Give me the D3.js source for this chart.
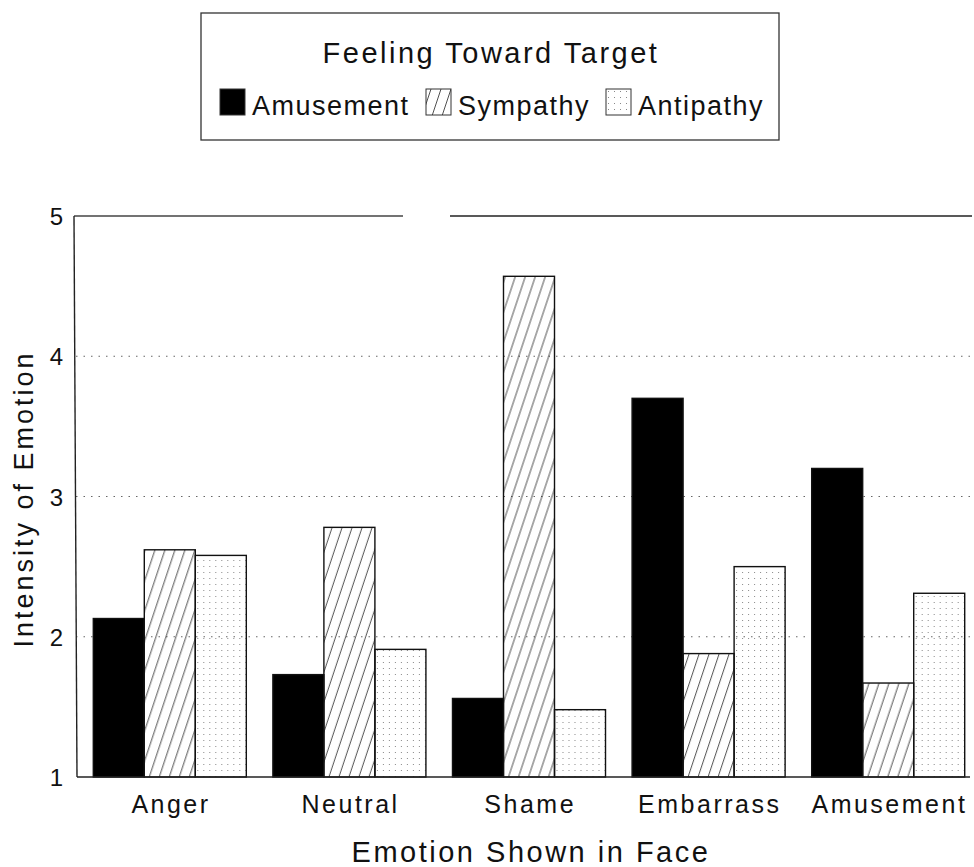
<!DOCTYPE html>
<html>
<head>
<meta charset="utf-8">
<script src="https://cdn.jsdelivr.net/npm/d3@7"></script>
<style>
  body { margin: 0; background: #fff; }
  svg text { font-family: "Liberation Sans", Arial, sans-serif; fill: #111; }
</style>
</head>
<body>
<div id="chart"></div>
<script>
// emotion shown in face (x categories)
const faces = ["Anger", "Neutral", "Shame", "Embarrass", "Amusement"]
// feeling toward target (series)
const feelings = ["Amusement", "Sympathy", "Antipathy"]
const amusement = [2.13, 1.73, 1.56, 3.70, 3.20]
const sympathy = [2.62, 2.78, 4.57, 1.88, 1.67]
const antipathy = [2.58, 1.91, 1.48, 2.50, 2.31]
const y_ticks = [1, 2, 3, 4, 5]
const grid_ticks = [2, 3, 4]

const width = 974
const height = 867

const series = [amusement, sympathy, antipathy]
const rows = faces.map((f, i) => ({
  face: f,
  values: feelings.map((s, j) => ({ key: s, value: series[j][i] }))
}))

const svg = d3.select("#chart").append("svg")
  .attr("width", width)
  .attr("height", height)

const defs = svg.append("defs")
const hatch = defs.append("pattern")
  .attr("id", "hatch")
  .attr("patternUnits", "userSpaceOnUse")
  .attr("width", 10).attr("height", 30)
hatch.append("path")
  .attr("d", "M-5,30 L5,0 M5,30 L15,0")
  .attr("stroke", "#222").attr("stroke-width", 0.8).attr("fill", "none")

const dots = defs.append("pattern")
  .attr("id", "dots")
  .attr("patternUnits", "userSpaceOnUse")
  .attr("width", 6).attr("height", 6)
dots.append("rect").attr("x", 2).attr("y", 2).attr("width", 1).attr("height", 1).attr("fill", "#888")

const fills = { "Amusement": "#000", "Sympathy": "url(#hatch)", "Antipathy": "url(#dots)" }

const x = d3.scaleBand()
  .domain(faces)
  .range([80, 978])
  .paddingInner(0.148)
  .paddingOuter(0.074)

const x_inner = d3.scaleBand()
  .domain(feelings)
  .range([0, x.bandwidth()])

const y = d3.scaleLinear()
  .domain([1, 5])
  .range([777, 216])

// dotted gridlines
svg.append("g")
  .selectAll("line")
  .data(grid_ticks)
  .enter()
  .append("line")
    .attr("x1", 76).attr("x2", 972)
    .attr("y1", d => y(d)).attr("y2", d => y(d))
    .attr("stroke", "#666")
    .attr("stroke-width", 1)
    .attr("stroke-dasharray", "1.5,6")

// top frame line (with the gap seen in the original)
svg.append("line").attr("x1", 74).attr("x2", 403).attr("y1", y(5)).attr("y2", y(5))
  .attr("stroke", "#444").attr("stroke-width", 1.3)
svg.append("line").attr("x1", 450).attr("x2", 972).attr("y1", y(5)).attr("y2", y(5))
  .attr("stroke", "#222").attr("stroke-width", 1.6)

// bars
svg.append("g")
  .selectAll("g")
  .data(rows)
  .enter()
  .append("g")
    .attr("transform", d => `translate(${x(d.face)},0)`)
  .selectAll("rect")
  .data(d => d.values)
  .enter()
  .append("rect")
    .attr("x", d => x_inner(d.key))
    .attr("y", d => y(d.value))
    .attr("width", x_inner.bandwidth())
    .attr("height", d => y(1) - y(d.value))
    .attr("fill", d => fills[d.key])
    .attr("stroke", "#111")
    .attr("stroke-width", 1.4)

// axes lines
svg.append("line").attr("x1", 74).attr("x2", 77).attr("y1", y(5)).attr("y2", y(1))
  .attr("stroke", "#222").attr("stroke-width", 1.4)
svg.append("line").attr("x1", 77).attr("x2", 970).attr("y1", y(1)).attr("y2", y(1))
  .attr("stroke", "#222").attr("stroke-width", 1.6)

// y tick labels
svg.append("g")
  .selectAll("text")
  .data(y_ticks)
  .enter()
  .append("text")
    .attr("x", 63)
    .attr("y", d => y(d))
    .attr("dy", "0.38em")
    .attr("text-anchor", "end")
    .style("font-size", "24px")
    .text(d => d)

// x tick labels
svg.append("g")
  .selectAll("text")
  .data(faces)
  .enter()
  .append("text")
    .attr("x", d => x(d) + x.bandwidth() / 2 + 1.2)
    .attr("y", 813)
    .attr("text-anchor", "middle")
    .style("font-size", "25px")
    .style("letter-spacing", "2.5px")
    .text(d => d)

// axis titles
svg.append("text")
  .attr("x", 531).attr("y", 862)
  .attr("text-anchor", "middle")
  .style("font-size", "29px")
  .style("letter-spacing", "2.5px")
  .text("Emotion Shown in Face")

svg.append("text")
  .attr("transform", "translate(33,499) rotate(-90)")
  .attr("text-anchor", "middle")
  .style("font-size", "27px")
  .style("letter-spacing", "3px")
  .text("Intensity of Emotion")

// legend
const legend = svg.append("g")
legend.append("rect")
  .attr("x", 201).attr("y", 13).attr("width", 578).attr("height", 127)
  .attr("fill", "none").attr("stroke", "#333").attr("stroke-width", 1.3)
legend.append("text")
  .attr("x", 491).attr("y", 63)
  .attr("text-anchor", "middle")
  .style("font-size", "29px")
  .style("letter-spacing", "2.5px")
  .text("Feeling Toward Target")

const legend_x = [220, 426, 606]
const items = legend.selectAll("g.item")
  .data(feelings)
  .enter()
  .append("g")
    .attr("class", "item")
    .attr("transform", (d, i) => `translate(${legend_x[i]},89)`)
items.append("rect")
  .attr("width", 25).attr("height", 26)
  .attr("fill", d => fills[d])
  .attr("stroke", "#333").attr("stroke-width", 1)
items.append("text")
  .attr("x", 32).attr("y", 26)
  .style("font-size", "27px")
  .style("letter-spacing", "1.5px")
  .text(d => d)
</script>
</body>
</html>
